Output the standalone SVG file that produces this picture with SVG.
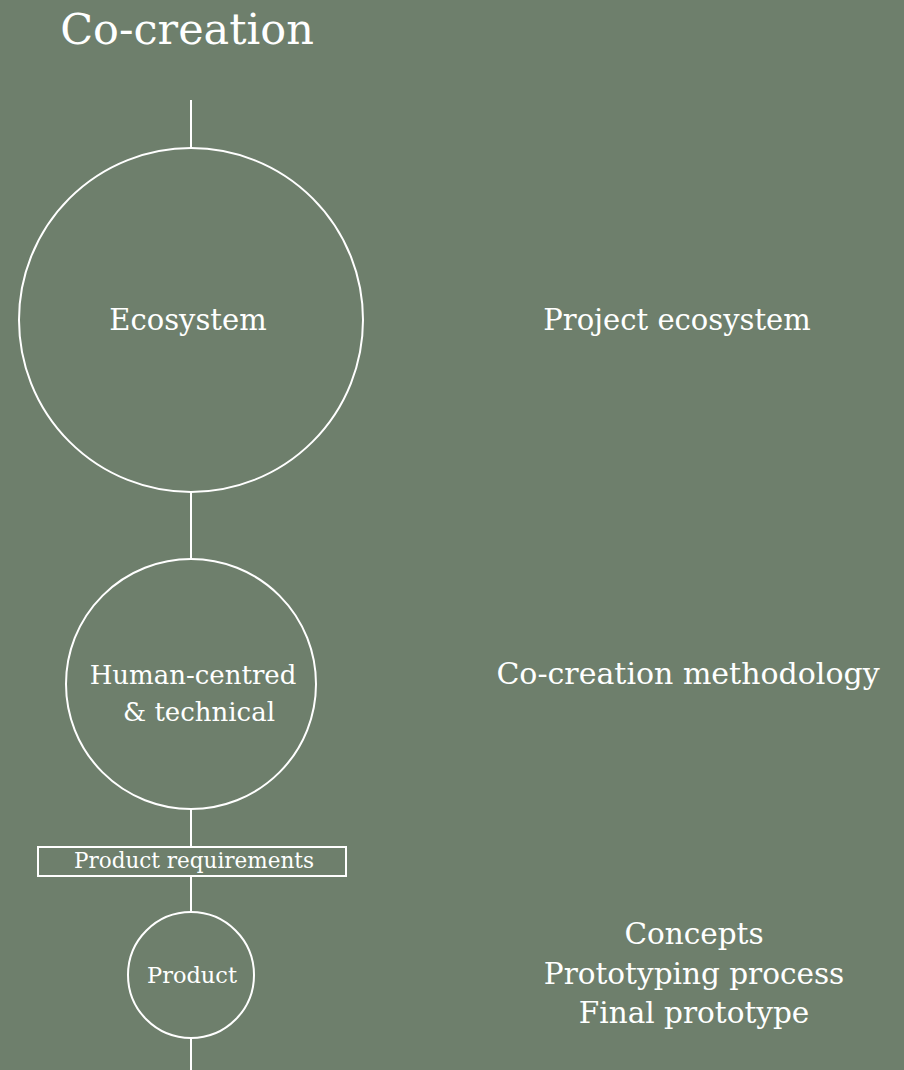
<svg xmlns="http://www.w3.org/2000/svg" width="904" height="1070" viewBox="0 0 904 1070">
<style>
.bg{fill:#6e7f6c}
.s{fill:none;stroke:#ffffff;stroke-width:2}
text{font-family:"DejaVu Serif","Liberation Serif",serif;fill:#ffffff;text-anchor:middle}
</style>
<rect class="bg" x="0" y="0" width="904" height="1070"/>
<text x="187" y="44" font-size="43">Co-creation</text>
<g id="connectors">
<line class="s" x1="191" y1="100" x2="191" y2="148"/>
<line class="s" x1="191" y1="492" x2="191" y2="559"/>
<line class="s" x1="191" y1="809" x2="191" y2="847"/>
<line class="s" x1="191" y1="876" x2="191" y2="912"/>
<line class="s" x1="191" y1="1038" x2="191" y2="1070"/>
</g>
<g id="ecosystem">
<circle class="s" cx="191" cy="320" r="172"/>
<text x="188" y="330" font-size="29">Ecosystem</text>
</g>
<g id="human-centred">
<circle class="s" cx="191" cy="684" r="125"/>
<text x="193" y="684" font-size="26">Human-centred</text>
<text x="199" y="721" font-size="26">&amp; technical</text>
</g>
<g id="product-requirements">
<rect class="s" x="38" y="847" width="308" height="29"/>
<text x="194" y="868" font-size="21.5">Product requirements</text>
</g>
<g id="product">
<circle class="s" cx="191" cy="975" r="63"/>
<text x="192" y="983" font-size="22.5">Product</text>
</g>
<g id="project-ecosystem">
<text x="677" y="330" font-size="29">Project ecosystem</text>
</g>
<g id="methodology">
<text x="688" y="684" font-size="30">Co-creation methodology</text>
</g>
<g id="outputs">
<text x="694" y="944" font-size="29.5">Concepts</text>
<text x="694" y="984" font-size="29.5">Prototyping process</text>
<text x="694" y="1023" font-size="29.5">Final prototype</text>
</g>
</svg>
